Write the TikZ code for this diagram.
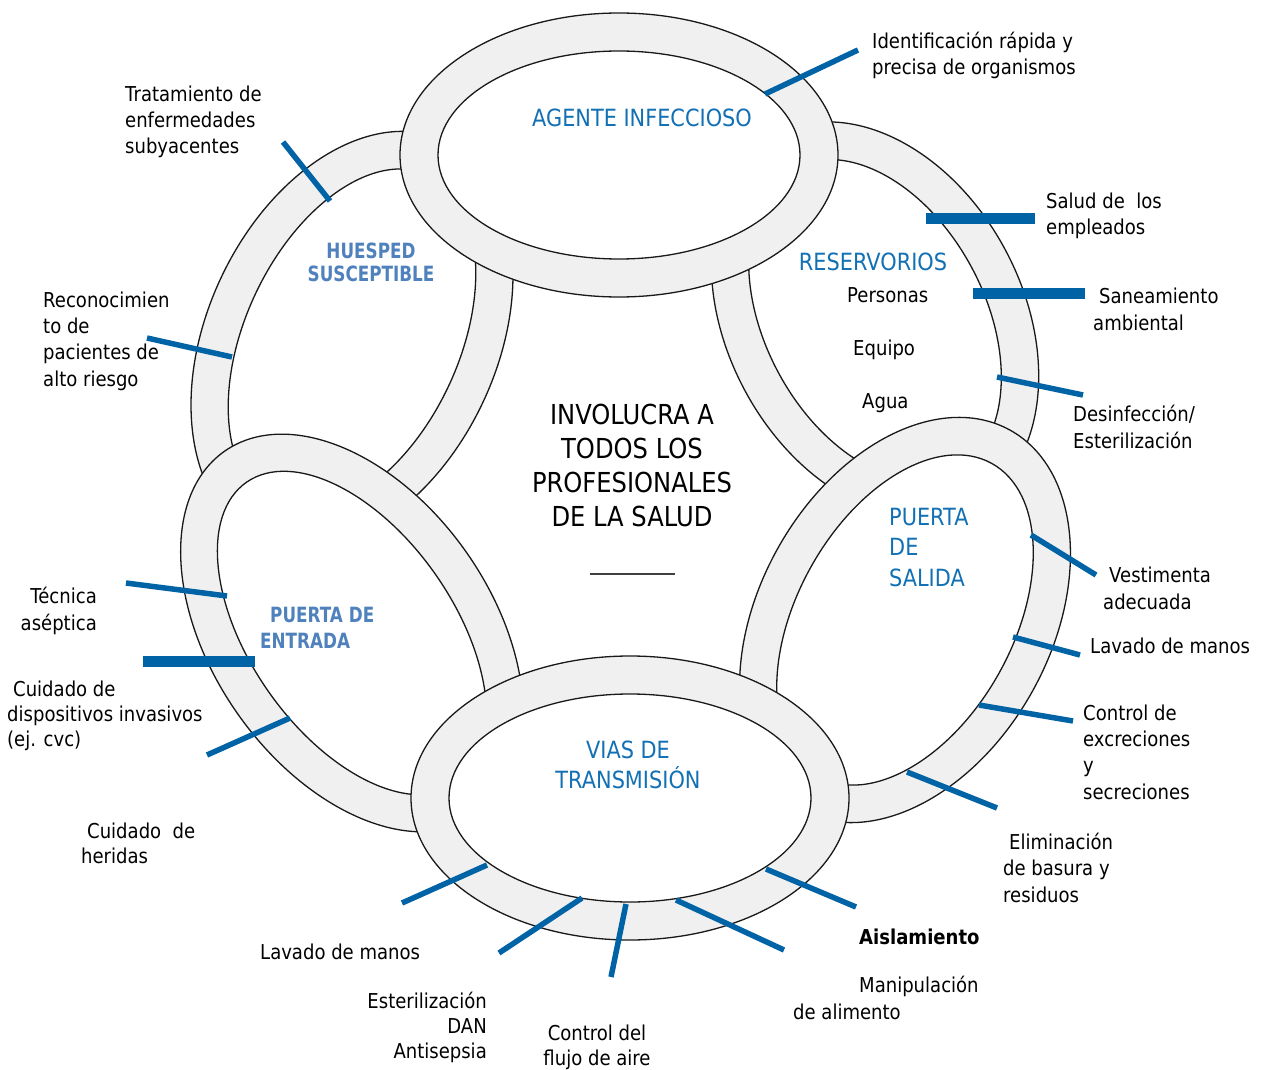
\documentclass[tikz,border=0pt]{standalone}
\usepackage{fontspec}
\setmainfont{DejaVu Sans}[FakeStretch=0.88]
\newfontfamily\bcapsfont{DejaVu Sans}[FakeStretch=0.8]
\definecolor{ringgray}{HTML}{F0F0F0}
\definecolor{tickblue}{HTML}{0063A6}
\definecolor{labelblue}{HTML}{1270B4}
\definecolor{softblue}{HTML}{4F81BD}
\definecolor{inkgray}{HTML}{404040}
\tikzset{
  ringline/.style={draw=black!90, line width=1.3pt},
  bluetick/.style={draw=tickblue, line width=5.5pt},
  bluebar/.style={draw=tickblue, line width=11pt},
  lbl/.style={font=\fontsize{20.5}{26.3}\selectfont, inner sep=0pt, text=black},
  caplbl/.style={font=\fontsize{23.7}{30.5}\selectfont, inner sep=0pt, text=labelblue},
  softlbl/.style={font=\bcapsfont\bfseries\fontsize{21}{23.5}\selectfont, inner sep=0pt, text=softblue},
  centerlbl/.style={font=\fontsize{27.5}{33.7}\selectfont, inner sep=0pt, text=black},
}
% #1 cx, #2 cy, #3 rotation, #4 outer a, #5 outer b
\newcommand\chainring[5]{%
  \draw[ringline, fill=ringgray, shift={(#1,#2)}, rotate=#3] (0,0) ellipse [x radius=#4pt, y radius=#5pt];
  \draw[ringline, fill=white, shift={(#1,#2)}, rotate=#3] (0,0) ellipse [x radius={(#4-38)*1pt}, y radius={(#5-38)*1pt}];
}
\begin{document}
\begin{tikzpicture}[x=1pt,y=-1pt]
\useasboundingbox (0,0) rectangle (1275,1070);
\fill[white] (0,0) rectangle (1275,1070);

% rings (drawing order gives the chain overlaps)
\chainring{352}{340}{65}{220}{145}   % huesped
\chainring{875}{320}{-62}{210}{148}  % reservorios
\chainring{352}{633}{-55}{222}{140}  % entrada
\chainring{905}{620}{61}{217}{146}   % salida
\chainring{619}{155}{0}{219}{142}    % agente
\chainring{630}{798}{0}{219}{142}    % vias

% blue ticks
\draw[bluetick] (765,94) -- (858,50);
\draw[bluebar] (926,218) -- (1035,218);
\draw[bluebar] (973,293.5) -- (1085,293.5);
\draw[bluetick] (997,377) -- (1083,395);
\draw[bluetick] (1031,535) -- (1096,575);
\draw[bluetick] (1013,637) -- (1080,655);
\draw[bluetick] (979,705) -- (1073,721);
\draw[bluetick] (907,772) -- (997,808);
\draw[bluetick] (766,869) -- (856,907);
\draw[bluetick] (676,900) -- (784,950);
\draw[bluetick] (626,904) -- (611,977);
\draw[bluetick] (582,898) -- (499,953);
\draw[bluetick] (487,865) -- (402,903);
\draw[bluetick] (290,718) -- (207,755);
\draw[bluebar] (143,661) -- (255,661);
\draw[bluetick] (126,583) -- (227,596);
\draw[bluetick] (147,338) -- (232,357);
\draw[bluetick] (283,142) -- (330,201);

% ring titles (multi-line nodes: base = last line)
\node[caplbl, anchor=base] (agente) at (642,127) {AGENTE INFECCIOSO};
\node[caplbl, anchor=base] (reserv) at (873,270) {RESERVORIOS};
\node[softlbl, anchor=base, align=center] (huesped) at (371,281.5) {HUESPED\\SUSCEPTIBLE};
\node[softlbl, anchor=base west, align=left, font=\bcapsfont\bfseries\fontsize{21}{26}\selectfont] (entrada) at (260,648) {\hspace*{10pt}PUERTA DE\\ENTRADA};
\node[caplbl, anchor=base west, align=left] (salida) at (889,586) {PUERTA\\DE\\SALIDA};
\node[caplbl, anchor=base, align=center] (vias) at (628,788.5) {VIAS DE\\TRANSMISIÓN};

% reservoir items
\node[lbl, anchor=base west] (personas) at (847,302) {Personas};
\node[lbl, anchor=base west] (equipo) at (853,355) {Equipo};
\node[lbl, anchor=base west] (agua) at (862,408) {Agua};

% centre text
\node[centerlbl, anchor=base, align=center] (centro) at (632,526) {INVOLUCRA A\\TODOS LOS\\PROFESIONALES\\DE LA SALUD};
\draw[inkgray, line width=2.2pt] (590,574) -- (675,574);

% outer labels
\node[lbl, anchor=base west, align=left] (ident) at (872,75) {Identificación rápida y\\precisa de organismos};
\node[lbl, anchor=base west, align=left] (salud) at (1046,234.5) {Salud de \ los\\empleados};
\node[lbl, anchor=base west, align=left] (saneam) at (1093,330) {\hspace*{6pt}Saneamiento\\ambiental};
\node[lbl, anchor=base west, align=left] (desinf) at (1073,448) {Desinfección/\\Esterilización};
\node[lbl, anchor=base west, align=left] (vestim) at (1103,609) {\hspace*{6pt}Vestimenta\\adecuada};
\node[lbl, anchor=base west] (lavadoder) at (1090,653) {Lavado de manos};
\node[lbl, anchor=base west, align=left] (control) at (1083,799) {Control de\\excreciones\\y\\secreciones};
\node[lbl, anchor=base west, align=left] (elimin) at (1003,902) {\hspace*{6pt}Eliminación\\de basura y\\residuos};
\node[lbl, anchor=base west, font=\fontsize{20.5}{26.3}\selectfont\bfseries] (aisla) at (859,944) {Aislamiento};
\node[lbl, anchor=base west, align=left] (manip) at (793,1019) {\hspace*{66pt}Manipulación\\de alimento};
\node[lbl, anchor=base, align=center, font=\fontsize{20.5}{25}\selectfont] (flujo) at (597,1065) {Control del\\flujo de aire};
\node[lbl, anchor=base east, align=right, font=\fontsize{20.5}{24.6}\selectfont] (esteril) at (487,1058) {Esterilización\\DAN\\Antisepsia};
\node[lbl, anchor=base west] (lavadoizq) at (260,959) {Lavado de manos};
\node[lbl, anchor=base west, align=left, font=\fontsize{20.5}{25}\selectfont] (heridas) at (81,863) {\hspace*{6pt}Cuidado \ de\\heridas};
\node[lbl, anchor=base west, align=left, font=\fontsize{20.5}{25}\selectfont] (disposit) at (7,746) {\hspace*{6pt}Cuidado de\\dispositivos invasivos\\(ej. cvc)};
\node[lbl, anchor=base east, align=right] (tecnica) at (97,630) {Técnica\\aséptica};
\node[lbl, anchor=base west, align=left] (reconoc) at (43,386) {Reconocimien\\to de\\pacientes de\\alto riesgo};
\node[lbl, anchor=base west, align=left] (tratam) at (125,154) {Tratamiento de\\enfermedades\\subyacentes};
\end{tikzpicture}
\end{document}
